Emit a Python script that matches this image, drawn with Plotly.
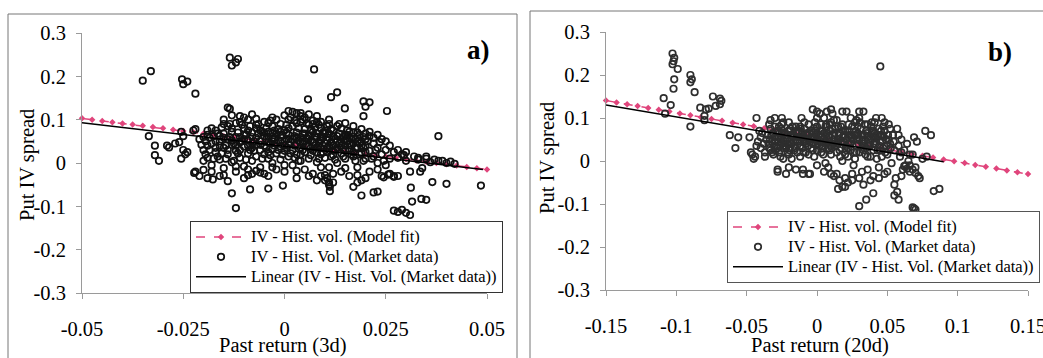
import plotly.graph_objects as go

W, H = 1043, 358
FONT = "Liberation Serif, Times New Roman, serif"
PINK = "#e0457c"

# ---------------- Panel a) : Past return (3d) ----------------
a_outliers = [
    (-0.035, 0.190), (-0.033, 0.212), (-0.0253, 0.193), (-0.024, 0.188), (-0.025, 0.182),
    (-0.022, 0.160), (-0.0135, 0.243), (-0.0115, 0.240), (-0.013, 0.225), (-0.012, 0.232),
    (0.0073, 0.216), (0.013, 0.163), (0.0115, 0.152), (0.0149, 0.126), (0.0195, 0.142),
    (0.021, 0.140), (0.020, 0.130), (0.0195, 0.108), (0.0253, 0.120), (0.038, 0.062),
    (0.0058, 0.147), (-0.014, 0.128), (-0.0135, 0.125), (-0.013, -0.070), (-0.012, -0.104),
    (-0.0085, -0.061), (-0.004, -0.059), (-0.0004, -0.052), (0.027, -0.110), (0.028, -0.113),
    (0.029, -0.108), (0.030, -0.115), (0.031, -0.120), (0.0312, -0.057), (0.0315, -0.089),
    (0.0338, -0.083), (0.035, -0.085), (0.0365, -0.044), (0.040, -0.048), (0.0485, -0.052),
    (0.019, -0.075), (0.022, -0.068), (0.023, -0.066), (0.017, -0.055), (0.0112, -0.065),
    (0.0112, -0.055), (0.011, -0.045), (-0.0223, -0.023), (-0.020, -0.016), (-0.0177, -0.038),
    (-0.0335, 0.062), (-0.032, 0.040), (-0.032, 0.018), (-0.031, 0.005), (-0.029, 0.040),
    (-0.0285, 0.036), (-0.027, 0.045), (-0.026, 0.048), (-0.0255, 0.072), (-0.025, 0.062),
    (-0.025, 0.030), (-0.0245, 0.020), (-0.0255, 0.010), (-0.024, 0.025), (-0.0225, 0.075),
    (-0.022, 0.078), (0.033, 0.012), (0.035, 0.015), (0.037, 0.008), (0.039, 0.005),
    (0.041, 0.003), (0.0256, -0.027), (0.027, -0.030), (0.0245, -0.033), (0.0295, 0.018),
    (0.0335, -0.020),
]
a_core = [
    (-0.021, 0.055), (-0.020, 0.030), (-0.019, 0.012), (-0.019, 0.065), (-0.018, 0.045),
    (-0.018, -0.005), (-0.017, 0.075), (-0.017, 0.025), (-0.016, 0.050), (-0.016, 0.008),
    (-0.015, 0.068), (-0.015, 0.035), (-0.015, -0.012), (-0.014, 0.085), (-0.014, 0.055),
    (-0.014, 0.020), (-0.013, 0.042), (-0.013, 0.002), (-0.013, 0.072), (-0.012, 0.060),
    (-0.012, 0.028), (-0.012, -0.020), (-0.011, 0.095), (-0.011, 0.048), (-0.011, 0.012),
    (-0.010, 0.080), (-0.010, 0.038), (-0.010, -0.008), (-0.010, 0.065), (-0.009, 0.052),
    (-0.009, 0.022), (-0.009, 0.100), (-0.008, 0.070), (-0.008, 0.035), (-0.008, 0.005),
    (-0.008, -0.025), (-0.007, 0.058), (-0.007, 0.042), (-0.007, 0.015), (-0.007, 0.088),
    (-0.006, 0.075), (-0.006, 0.030), (-0.006, -0.010), (-0.006, 0.050), (-0.005, 0.062),
    (-0.005, 0.040), (-0.005, 0.020), (-0.005, 0.095), (-0.004, 0.072), (-0.004, 0.048),
    (-0.004, 0.010), (-0.004, -0.030), (-0.003, 0.085), (-0.003, 0.055), (-0.003, 0.032),
    (-0.003, 0.000), (-0.002, 0.068), (-0.002, 0.045), (-0.002, 0.022), (-0.002, -0.015),
    (-0.001, 0.090), (-0.001, 0.060), (-0.001, 0.038), (-0.001, 0.008), (0.000, 0.110),
    (0.000, 0.075), (0.000, 0.050), (0.000, 0.028), (0.000, -0.020), (0.001, 0.100),
    (0.001, 0.065), (0.001, 0.042), (0.001, 0.015), (0.002, 0.085), (0.002, 0.055),
    (0.002, 0.030), (0.002, -0.005), (0.003, 0.115), (0.003, 0.070), (0.003, 0.045),
    (0.003, 0.020), (0.003, -0.035), (0.004, 0.095), (0.004, 0.060), (0.004, 0.035),
    (0.004, 0.005), (0.005, 0.105), (0.005, 0.078), (0.005, 0.050), (0.005, 0.025),
    (0.005, -0.015), (0.006, 0.088), (0.006, 0.062), (0.006, 0.040), (0.006, 0.010),
    (0.007, 0.072), (0.007, 0.048), (0.007, 0.028), (0.007, -0.025), (0.008, 0.095),
    (0.008, 0.058), (0.008, 0.035), (0.008, 0.002), (0.009, 0.080), (0.009, 0.052),
    (0.009, 0.020), (0.009, -0.030), (0.010, 0.068), (0.010, 0.045), (0.010, 0.012),
    (0.010, -0.040), (0.011, 0.090), (0.011, 0.058), (0.011, 0.030), (0.011, -0.010),
    (0.012, 0.075), (0.012, 0.040), (0.012, 0.018), (0.012, -0.045), (0.013, 0.062),
    (0.013, 0.035), (0.013, 0.000), (0.014, 0.080), (0.014, 0.050), (0.014, 0.022),
    (0.014, -0.020), (0.015, 0.065), (0.015, 0.040), (0.015, 0.010), (0.016, 0.058),
    (0.016, 0.030), (0.016, -0.030), (0.017, 0.070), (0.017, 0.045), (0.017, 0.015),
    (0.018, 0.060), (0.018, 0.035), (0.018, -0.010), (0.019, 0.050), (0.019, 0.022),
    (0.019, -0.040), (0.020, 0.040), (0.020, 0.010), (0.021, 0.062), (0.021, 0.028),
    (0.021, -0.020), (0.022, 0.045), (0.022, 0.015), (0.023, 0.035), (0.023, 0.000),
    (0.024, 0.055), (0.024, 0.020), (0.024, -0.030), (0.025, 0.030), (0.025, -0.005),
    (0.026, 0.010), (0.026, -0.025), (0.027, 0.025), (0.027, -0.032), (0.028, 0.012),
    (0.028, -0.030), (0.029, 0.020), (0.030, 0.005), (0.031, -0.020), (0.033, 0.008),
    (0.034, -0.012), (0.035, 0.010), (0.036, 0.002), (0.038, 0.005), (0.040, 0.000),
    (0.042, -0.002), (-0.022, -0.020), (-0.021, -0.030), (-0.020, 0.005), (-0.019, -0.035),
    (-0.018, 0.080), (-0.016, -0.030), (-0.015, 0.090), (-0.013, 0.110), (-0.012, 0.092),
    (-0.010, 0.105), (-0.009, -0.028), (-0.008, 0.112), (-0.007, -0.018), (-0.005, -0.025),
    (-0.003, 0.105), (-0.002, 0.100), (0.002, 0.118), (0.004, 0.108), (0.006, 0.112),
    (0.007, 0.098), (0.009, 0.095), (0.010, 0.075), (0.013, 0.085), (0.016, 0.072),
    (0.018, 0.070), (0.020, 0.068), (0.0005, 0.055), (0.0015, 0.048), (0.0025, 0.062),
    (0.0035, 0.052), (0.0045, 0.044), (0.0055, 0.058), (0.0065, 0.052), (0.0075, 0.062),
    (0.0085, 0.045), (0.0095, 0.058), (0.0105, 0.052), (0.0115, 0.048), (-0.0015, 0.052),
    (-0.0025, 0.058), (-0.0035, 0.045), (-0.0045, 0.055), (0.0005, 0.035), (0.0025, 0.040),
    (0.0045, 0.030), (0.0065, 0.035), (0.0085, 0.040), (0.0105, 0.035), (0.0125, 0.055),
    (0.0135, 0.045), (0.0145, 0.060), (0.0155, 0.050), (0.0165, 0.040), (0.0175, 0.055),
    (0.0185, 0.045), (0.0195, 0.060),
]
a_core2 = [
    (-0.0205, 0.042), (-0.0195, 0.020), (-0.0185, 0.058), (-0.0175, 0.010), (-0.0165, 0.068),
    (-0.0155, 0.022), (-0.0145, 0.040), (-0.0135, 0.060), (-0.0125, 0.005), (-0.0115, 0.070),
    (-0.0105, 0.050), (-0.0095, 0.008), (-0.0085, 0.085), (-0.0075, 0.028), (-0.0065, 0.068),
    (-0.0055, 0.010), (-0.0045, 0.080), (-0.0035, 0.018), (-0.0025, 0.075), (-0.0015, 0.030),
    (-0.0005, 0.065), (0.0005, 0.088), (0.0015, 0.022), (0.0025, 0.098), (0.0035, 0.005),
    (0.0045, 0.068), (0.0055, 0.092), (0.0065, 0.018), (0.0075, 0.082), (0.0085, 0.010),
    (0.0095, 0.070), (0.0105, 0.025), (0.0115, 0.078), (0.0125, 0.008), (0.0135, 0.068),
    (0.0145, 0.032), (0.0155, 0.075), (0.0165, 0.020), (0.0175, 0.035), (0.0185, 0.020),
    (0.0195, 0.035), (0.0205, 0.050), (0.0215, 0.010), (0.0225, 0.030), (0.0235, 0.048),
    (0.0245, 0.005), (-0.0200, 0.060), (-0.0190, 0.040), (-0.0170, 0.035), (-0.0160, 0.062),
    (-0.0140, 0.030), (-0.0130, 0.052), (-0.0110, 0.030), (-0.0100, 0.055), (-0.0090, 0.040),
    (-0.0080, 0.060), (-0.0060, 0.042), (-0.0040, 0.060), (-0.0030, 0.068), (-0.0010, 0.050),
    (0.0010, 0.055), (0.0030, 0.058), (0.0040, 0.048), (0.0060, 0.055), (0.0080, 0.068),
    (0.0090, 0.035), (0.0110, 0.040), (0.0120, 0.062), (0.0140, 0.040), (0.0150, 0.030),
    (0.0170, 0.060), (0.0180, 0.050), (0.0200, 0.055), (0.0220, 0.058), (-0.0180, -0.020),
    (-0.0150, -0.028), (-0.0120, -0.008), (-0.0090, -0.015), (-0.0060, -0.022), (-0.0030, -0.010),
    (0.0000, -0.005), (0.0030, -0.018), (0.0060, -0.030), (0.0090, -0.010), (0.0120, -0.025),
    (0.0150, -0.012), (0.0180, -0.028), (0.0200, -0.035), (0.0230, -0.015), (0.0080, -0.040),
    (0.0100, -0.028), (0.0105, -0.035), (0.0110, -0.050), (0.0180, -0.045), (-0.0140, -0.042),
    (-0.0100, -0.035), (-0.0150, 0.100), (-0.0110, 0.108), (-0.0070, 0.102), (-0.0040, 0.092),
    (0.0010, 0.120), (0.0040, 0.115), (0.0080, 0.108), (0.0110, 0.100), (0.0150, 0.092),
    (0.0170, 0.085), (0.0190, 0.078), (0.0210, 0.072), (0.0230, 0.065), (0.0250, 0.050),
    (0.0260, 0.040), (0.0280, 0.030), (0.0300, 0.025), (0.0320, 0.015),
]
a_core3 = [
    (-0.0195, 0.050), (-0.0185, 0.030), (-0.0175, 0.062), (-0.0165, 0.015), (-0.0155, 0.082),
    (-0.0145, 0.010), (-0.0135, 0.090), (-0.0125, 0.045), (-0.0115, 0.022), (-0.0105, 0.088),
    (-0.0095, 0.065), (-0.0085, 0.030), (-0.0075, 0.050), (-0.0065, 0.090), (-0.0055, 0.072),
    (-0.0045, 0.035), (-0.0035, 0.098), (-0.0025, 0.040), (-0.0015, 0.078), (-0.0005, 0.020),
    (0.0005, 0.070), (0.0015, 0.105), (0.0025, 0.012), (0.0035, 0.080), (0.0045, 0.100),
    (0.0055, 0.038), (0.0065, 0.078), (0.0075, 0.040), (0.0085, 0.088), (0.0095, 0.025),
    (0.0105, 0.085), (0.0115, 0.015), (0.0125, 0.030), (0.0135, 0.090), (0.0145, 0.015),
    (0.0155, 0.065), (0.0165, 0.055), (0.0175, 0.005), (0.0185, 0.065), (0.0195, 0.005),
    (-0.0190, 0.075), (-0.0170, 0.050), (-0.0150, 0.058), (-0.0130, 0.080), (-0.0110, 0.060),
    (-0.0090, 0.075), (-0.0070, 0.080), (-0.0050, 0.070), (-0.0030, 0.050), (-0.0010, 0.072),
    (0.0010, 0.080), (0.0030, 0.092), (0.0050, 0.068), (0.0070, 0.090), (0.0090, 0.062),
    (0.0110, 0.068), (0.0130, 0.050), (0.0150, 0.055), (0.0170, 0.025), (0.0190, 0.040),
    (-0.0160, 0.040), (-0.0120, 0.040), (-0.0080, 0.045), (-0.0040, 0.025), (0.0000, 0.040),
    (0.0040, 0.020), (0.0080, 0.025), (0.0120, 0.028), (0.0160, 0.045), (0.0200, 0.025),
]
a_fit_x = [-0.05, -0.0475, -0.045, -0.0425, -0.04, -0.0375, -0.035, -0.0325, -0.03, -0.0275,
           -0.025, -0.0225, -0.02, -0.0175, -0.015, -0.0125, -0.01, -0.0075, -0.005, -0.0025,
           0.0, 0.0025, 0.005, 0.0075, 0.01, 0.0125, 0.015, 0.0175, 0.02, 0.0225,
           0.025, 0.0275, 0.03, 0.0325, 0.035, 0.0375, 0.04, 0.0425, 0.045, 0.0475, 0.05]
a_fit_y = [0.103, 0.100, 0.097, 0.094, 0.091, 0.089, 0.086, 0.083, 0.080, 0.077,
           0.074, 0.071, 0.068, 0.065, 0.062, 0.059, 0.056, 0.053, 0.050, 0.047,
           0.044, 0.041, 0.038, 0.035, 0.032, 0.029, 0.026, 0.023, 0.020, 0.017,
           0.015, 0.012, 0.009, 0.006, 0.003, 0.000, -0.003, -0.006, -0.009, -0.012, -0.015]
a_lin_x = [-0.05, 0.049]
a_lin_y = [0.093, -0.015]
a_xticks = [-0.05, -0.025, 0, 0.025, 0.05]
a_xticklabels = ["-0.05", "-0.025", "0", "0.025", "0.05"]

# ---------------- Panel b) : Past return (20d) ----------------
b_outliers = [
    (-0.1027, 0.250), (-0.1015, 0.240), (-0.1027, 0.225), (-0.102, 0.232), (-0.099, 0.214),
    (-0.1015, 0.190), (-0.102, 0.168), (-0.109, 0.146), (-0.104, 0.130), (-0.090, 0.200),
    (-0.089, 0.190), (-0.090, 0.183), (-0.087, 0.160), (-0.083, 0.124), (-0.079, 0.120),
    (-0.077, 0.122), (-0.074, 0.150), (-0.072, 0.128), (-0.069, 0.145), (-0.068, 0.140),
    (-0.069, 0.132), (-0.080, 0.105), (-0.080, 0.095), (-0.090, 0.080), (-0.108, 0.110),
    (-0.058, 0.030), (-0.062, 0.060), (-0.056, 0.055), (-0.048, 0.055), (-0.046, 0.015),
    (-0.045, 0.005), (-0.044, 0.010), (-0.047, 0.020), (-0.043, 0.100), (-0.033, 0.095),
    (0.045, 0.220), (0.030, -0.105), (0.035, -0.090), (0.040, -0.075), (0.055, -0.080),
    (0.057, -0.072), (0.058, -0.090), (0.068, -0.108), (0.069, -0.110), (0.070, -0.113),
    (0.083, -0.070), (0.087, -0.065), (0.077, 0.070), (0.081, 0.060), (0.060, 0.020),
    (0.066, 0.015), (0.020, -0.060), (0.025, -0.045), (0.015, -0.065), (0.010, -0.030),
    (0.005, -0.025), (-0.005, -0.030), (0.062, -0.012), (0.064, -0.018), (0.066, -0.010),
    (0.068, -0.020), (0.070, -0.028), (0.072, -0.035),
]
b_core = [
    (-0.035, 0.060), (-0.034, 0.030), (-0.033, 0.075), (-0.032, 0.045), (-0.031, 0.015),
    (-0.030, 0.100), (-0.030, 0.055), (-0.029, 0.035), (-0.028, 0.070), (-0.028, -0.025),
    (-0.027, 0.020), (-0.026, 0.050), (-0.025, 0.085), (-0.025, 0.040), (-0.024, 0.005),
    (-0.023, 0.065), (-0.022, 0.030), (-0.022, -0.030), (-0.021, 0.050), (-0.020, 0.090),
    (-0.020, 0.015), (-0.019, 0.070), (-0.018, 0.040), (-0.017, 0.055), (-0.016, 0.025),
    (-0.015, 0.080), (-0.015, -0.020), (-0.014, 0.045), (-0.013, 0.065), (-0.012, 0.010),
    (-0.012, 0.035), (-0.011, 0.100), (-0.010, 0.055), (-0.010, -0.030), (-0.009, 0.075),
    (-0.008, 0.040), (-0.008, 0.020), (-0.007, 0.060), (-0.006, 0.085), (-0.006, -0.030),
    (-0.005, 0.045), (-0.004, 0.030), (-0.004, 0.070), (-0.003, 0.120), (-0.002, 0.055),
    (-0.002, 0.010), (-0.001, 0.040), (0.000, 0.080), (0.000, 0.025), (0.001, 0.060),
    (0.002, 0.110), (0.002, 0.045), (0.003, 0.020), (0.004, 0.070), (0.004, 0.035),
    (0.005, 0.100), (0.005, 0.050), (0.006, -0.005), (0.007, 0.115), (0.007, 0.065),
    (0.008, 0.030), (0.009, 0.085), (0.009, 0.045), (0.010, 0.015), (0.011, 0.110),
    (0.011, 0.060), (0.012, -0.035), (0.012, 0.040), (0.013, 0.075), (0.014, 0.020),
    (0.014, 0.095), (0.015, 0.050), (0.016, -0.045), (0.016, 0.065), (0.017, 0.030),
    (0.018, 0.085), (0.018, -0.060), (0.019, 0.045), (0.020, 0.015), (0.020, 0.070),
    (0.021, 0.115), (0.022, 0.040), (0.022, -0.050), (0.023, 0.060), (0.024, 0.025),
    (0.025, 0.080), (0.025, -0.030), (0.026, 0.050), (0.027, 0.005), (0.028, 0.095),
    (0.028, 0.035), (0.029, 0.065), (0.030, -0.040), (0.030, 0.020), (0.031, 0.075),
    (0.032, 0.045), (0.033, 0.115), (0.033, -0.055), (0.034, 0.060), (0.035, 0.030),
    (0.036, 0.085), (0.036, -0.020), (0.037, 0.050), (0.038, 0.010), (0.039, 0.070),
    (0.040, 0.040), (0.040, -0.035), (0.041, 0.090), (0.042, 0.055), (0.043, 0.025),
    (0.044, 0.075), (0.044, -0.015), (0.045, 0.045), (0.046, 0.100), (0.046, 0.060),
    (0.047, 0.030), (0.048, -0.030), (0.048, 0.070), (0.049, 0.050), (0.050, 0.015),
    (0.051, 0.085), (0.052, 0.040), (0.053, -0.005), (0.054, 0.060), (0.055, 0.025),
    (0.056, -0.040), (0.057, 0.075), (0.058, 0.035), (0.059, 0.010), (0.060, 0.050),
    (0.061, -0.020), (0.062, 0.025), (0.063, -0.010), (0.064, 0.040), (0.065, 0.000),
    (0.066, -0.025), (0.068, 0.015), (0.069, 0.055), (0.070, -0.015), (0.071, 0.045),
    (0.073, -0.040), (0.075, 0.005), (0.078, 0.010),
    (-0.030, 0.045), (-0.027, 0.055), (-0.024, 0.048), (-0.021, 0.040), (-0.018, 0.060),
    (-0.015, 0.050), (-0.012, 0.055), (-0.009, 0.045), (-0.006, 0.050), (-0.003, 0.040),
    (0.000, 0.050), (0.003, 0.055), (0.006, 0.045), (0.009, 0.060), (0.012, 0.050),
    (0.015, 0.040), (0.018, 0.055), (0.021, 0.050), (0.024, 0.045), (0.027, 0.060),
    (0.030, 0.050), (0.033, 0.040), (0.036, 0.055), (0.039, 0.050), (0.042, 0.045),
    (0.045, 0.060), (-0.028, 0.030), (-0.022, 0.035), (-0.016, 0.035), (-0.010, 0.030),
    (0.004, 0.030), (0.010, 0.035), (0.016, 0.025), (0.022, 0.030), (0.028, 0.020),
    (0.034, 0.035), (0.040, 0.025), (-0.025, 0.065), (-0.019, 0.075), (-0.013, 0.070),
    (-0.007, 0.065), (-0.001, 0.070), (0.005, 0.065), (0.011, 0.075), (0.017, 0.080),
    (0.023, 0.070), (0.029, 0.080), (0.035, 0.070), (0.041, 0.065), (0.047, 0.080),
    (-0.038, 0.040), (-0.040, 0.055), (-0.037, 0.020), (-0.042, 0.045), (-0.041, 0.070),
    (-0.043, 0.035),
]
b_core2 = [
    (-0.0335, 0.050), (-0.0315, 0.065), (-0.0295, 0.025), (-0.0275, 0.045), (-0.0255, 0.075),
    (-0.0235, 0.035), (-0.0215, 0.060), (-0.0195, 0.025), (-0.0175, 0.080), (-0.0155, 0.030),
    (-0.0135, 0.055), (-0.0115, 0.075), (-0.0095, 0.020), (-0.0075, 0.045), (-0.0055, 0.065),
    (-0.0035, 0.050), (-0.0015, 0.090), (0.0005, 0.040), (0.0025, 0.070), (0.0045, 0.015),
    (0.0065, 0.085), (0.0085, 0.055), (0.0105, 0.030), (0.0125, 0.065), (0.0145, 0.045),
    (0.0165, 0.010), (0.0185, 0.070), (0.0205, 0.035), (0.0225, 0.085), (0.0245, 0.060),
    (0.0265, 0.020), (0.0285, 0.050), (0.0305, 0.090), (0.0325, 0.060), (0.0345, 0.015),
    (0.0365, 0.040), (0.0385, 0.080), (0.0405, 0.055), (0.0425, 0.005), (0.0445, 0.035),
    (0.0465, 0.045), (0.0485, 0.020), (0.0505, 0.060), (0.0525, 0.030), (0.0545, 0.045),
    (-0.032, 0.020), (-0.026, 0.010), (-0.020, 0.045), (-0.014, 0.020), (-0.008, 0.060),
    (-0.002, 0.075), (0.004, 0.050), (0.010, 0.090), (0.016, 0.050), (0.022, 0.010),
    (0.028, 0.060), (0.034, 0.085), (0.040, 0.070), (0.046, 0.010), (0.052, 0.075),
    (0.058, 0.060), (-0.030, 0.080), (-0.024, 0.090), (-0.018, 0.005), (-0.012, 0.080),
    (-0.006, 0.015), (0.000, 0.100), (0.006, 0.080), (0.012, 0.095), (0.018, 0.000),
    (0.024, 0.100), (0.030, 0.100), (0.036, 0.010), (0.042, 0.100), (0.048, 0.090),
    (-0.028, -0.020), (-0.020, -0.015), (-0.010, -0.020), (0.000, -0.010), (0.008, -0.015),
    (0.014, -0.030), (0.020, -0.040), (0.026, -0.010), (0.032, -0.025), (0.038, -0.045),
    (0.044, -0.040), (0.050, -0.025), (0.055, -0.055), (0.060, -0.035), (-0.036, 0.050),
    (-0.039, 0.065), (-0.034, 0.085), (-0.037, 0.010), (-0.040, 0.030), (-0.025, 0.100),
    (0.000, 0.115), (0.010, 0.120), (0.018, 0.115), (0.030, 0.115),
]
b_core3 = [
    (-0.0345, 0.040), (-0.0325, 0.060), (-0.0305, 0.035), (-0.0285, 0.055), (-0.0265, 0.065),
    (-0.0245, 0.030), (-0.0225, 0.050), (-0.0205, 0.070), (-0.0185, 0.045), (-0.0165, 0.060),
    (-0.0145, 0.070), (-0.0125, 0.045), (-0.0105, 0.065), (-0.0085, 0.050), (-0.0065, 0.035),
    (-0.0045, 0.055), (-0.0025, 0.065), (-0.0005, 0.055), (0.0015, 0.035), (0.0035, 0.060),
    (0.0055, 0.040), (0.0075, 0.050), (0.0095, 0.070), (0.0115, 0.045), (0.0135, 0.035),
    (0.0155, 0.060), (0.0175, 0.045), (0.0195, 0.060), (0.0215, 0.070), (0.0235, 0.040),
    (0.0255, 0.055), (0.0275, 0.070), (0.0295, 0.040), (0.0315, 0.060), (0.0335, 0.050),
    (0.0355, 0.065), (0.0375, 0.035), (0.0395, 0.060), (0.0415, 0.040), (0.0435, 0.060),
    (0.0455, 0.070), (0.0475, 0.055), (0.0495, 0.035), (-0.033, 0.025), (-0.027, 0.080),
    (-0.021, 0.020), (-0.015, 0.065), (-0.009, 0.090), (-0.003, 0.025), (0.003, 0.085),
    (0.009, 0.025), (0.015, 0.080), (0.021, 0.025), (0.027, 0.090), (0.033, 0.025),
    (0.039, 0.090), (0.045, 0.025), (0.051, 0.050),
]
b_fit_x = [-0.15, -0.1425, -0.135, -0.1275, -0.12, -0.1125, -0.105, -0.0975, -0.09, -0.0825,
           -0.075, -0.0675, -0.06, -0.0525, -0.045, -0.0375, -0.03, -0.0225, -0.015, -0.0075,
           0.0, 0.0075, 0.015, 0.0225, 0.03, 0.0375, 0.045, 0.0525, 0.06, 0.0675,
           0.075, 0.0825, 0.09, 0.0975, 0.105, 0.1125, 0.12, 0.1275, 0.135, 0.1425, 0.15]
b_fit_y = [0.1405, 0.1362, 0.1320, 0.1277, 0.1234, 0.1191, 0.1149, 0.1106, 0.1063, 0.1020,
           0.0978, 0.0935, 0.0892, 0.0849, 0.0807, 0.0764, 0.0721, 0.0678, 0.0636, 0.0593,
           0.0550, 0.0507, 0.0465, 0.0422, 0.0379, 0.0336, 0.0294, 0.0251, 0.0208, 0.0165,
           0.0123, 0.0080, 0.0037, -0.0006, -0.0049, -0.0091, -0.0134, -0.0177, -0.0220,
           -0.0262, -0.0305]
b_lin_x = [-0.15, 0.09]
b_lin_y = [0.130, -0.002]
b_xticks = [-0.15, -0.1, -0.05, 0, 0.05, 0.1, 0.15]
b_xticklabels = ["-0.15", "-0.1", "-0.05", "0", "0.05", "0.1", "0.15"]

y_ticks = [-0.3, -0.2, -0.1, 0, 0.1, 0.2, 0.3]
y_ticklabels = ["-0.3", "-0.2", "-0.1", "0", "0.1", "0.2", "0.3"]

names = ["IV - Hist. vol. (Model fit)", "IV - Hist. Vol. (Market data)",
         "Linear (IV - Hist. Vol. (Market data))"]

fig = go.Figure()


def legend_name(s):
    return '<span style="font-size:16.5px">' + s + '</span>'


def add_panel(xa, ya, leg, fx, fy, pts_lists, lx, ly, mcol):
    fig.add_trace(go.Scatter(
        x=fx, y=fy, mode="lines+markers", name=legend_name(names[0]), xaxis=xa, yaxis=ya,
        legend=leg, line=dict(color=PINK, width=1.5, dash="dash"),
        marker=dict(symbol="diamond", size=5, color=PINK), cliponaxis=False))
    px = [p[0] for lst in pts_lists for p in lst]
    py = [p[1] for lst in pts_lists for p in lst]
    fig.add_trace(go.Scatter(
        x=px, y=py, mode="markers", name=legend_name(names[1]), xaxis=xa, yaxis=ya, legend=leg,
        marker=dict(symbol="circle-open", size=6.5, color=mcol, line=dict(width=1.7, color=mcol))))
    fig.add_trace(go.Scatter(
        x=lx, y=ly, mode="lines", name=legend_name(names[2]), xaxis=xa, yaxis=ya, legend=leg,
        line=dict(color="black", width=1.5)))


add_panel("x", "y", "legend", a_fit_x, a_fit_y, [a_outliers, a_core, a_core2, a_core3],
          a_lin_x, a_lin_y, "#111111")
add_panel("x2", "y2", "legend2", b_fit_x, b_fit_y, [b_outliers, b_core, b_core2, b_core3],
          b_lin_x, b_lin_y, "#2e2e2e")

AX = "#9a9a9a"
tickfont = dict(family=FONT, size=20.5, color="black")


def xaxis(dom, anchor, rng, vals, text):
    return dict(domain=dom, anchor=anchor, range=rng, tickvals=vals, ticktext=text,
                showgrid=False, zeroline=False, showline=True, linecolor=AX, linewidth=1,
                ticks="outside", ticklen=5, tickcolor=AX, tickfont=tickfont,
                ticklabelstandoff=12, automargin=False, ticklabeloverflow="allow")


def yaxis(dom, anchor):
    return dict(domain=dom, anchor=anchor, range=[-0.3, 0.3], tickvals=y_ticks,
                ticktext=y_ticklabels, showgrid=False, zeroline=False, showline=True,
                linecolor=AX, linewidth=1, ticks="outside", ticklen=5, tickcolor=AX,
                tickfont=tickfont, ticklabelstandoff=6, automargin=False)


legfont = dict(family=FONT, size=13, color="black")
ann_font = dict(family=FONT, size=20.5, color="black")

fig.update_layout(
    width=W, height=H, margin=dict(l=0, r=0, t=0, b=0, autoexpand=False),
    paper_bgcolor="white", plot_bgcolor="white", showlegend=True,
    xaxis=xaxis([82 / W, 487 / W], "y", [-0.05, 0.05], a_xticks, a_xticklabels),
    yaxis=yaxis([1 - 293 / H, 1 - 33 / H], "x"),
    xaxis2=xaxis([606 / W, 1028 / W], "y2", [-0.15, 0.15], b_xticks, b_xticklabels),
    yaxis2=yaxis([1 - 290 / H, 1 - 32 / H], "x2"),
    legend=dict(x=503 / W, y=1 - 293 / H, xanchor="right", yanchor="bottom",
                bgcolor="white", bordercolor="#333", borderwidth=1, font=legfont,
                itemwidth=50, tracegroupgap=0),
    legend2=dict(x=1040 / W, y=1 - 283 / H, xanchor="right", yanchor="bottom",
                 bgcolor="white", bordercolor="#555", borderwidth=1, font=legfont,
                 itemwidth=50, tracegroupgap=0),
    font=dict(family=FONT, color="black"),
    shapes=[
        dict(type="rect", xref="paper", yref="paper", x0=8 / W, x1=517 / W, y0=-0.02,
             y1=1 - 14 / H, line=dict(color="#777", width=1), layer="below"),
        dict(type="rect", xref="paper", yref="paper", x0=530 / W, x1=1.02, y0=-0.02,
             y1=1 - 11 / H, line=dict(color="#777", width=1), layer="below"),
    ],
    annotations=[
        dict(text="<b>a)</b>", xref="paper", yref="paper", x=478 / W, y=1 - 50 / H,
             xanchor="center", yanchor="middle", showarrow=False,
             font=dict(family=FONT, size=27, color="black")),
        dict(text="<b>b)</b>", xref="paper", yref="paper", x=1000 / W, y=1 - 52 / H,
             xanchor="center", yanchor="middle", showarrow=False,
             font=dict(family=FONT, size=27, color="black")),
        dict(text="Past return (3d)", xref="paper", yref="paper", x=283 / W, y=1 - 345 / H,
             xanchor="center", yanchor="middle", showarrow=False, font=ann_font),
        dict(text="Past return (20d)", xref="paper", yref="paper", x=820 / W, y=1 - 345 / H,
             xanchor="center", yanchor="middle", showarrow=False, font=ann_font),
        dict(text="Put IV spread", xref="paper", yref="paper", x=27 / W, y=1 - 165 / H,
             xanchor="center", yanchor="middle", textangle=-90, showarrow=False,
             font=dict(family=FONT, size=20.5, color="black")),
        dict(text="Put IV spread", xref="paper", yref="paper", x=548 / W, y=1 - 158 / H,
             xanchor="center", yanchor="middle", textangle=-90, showarrow=False,
             font=dict(family=FONT, size=20.5, color="black")),
    ],
)

fig.write_html("out.html")
